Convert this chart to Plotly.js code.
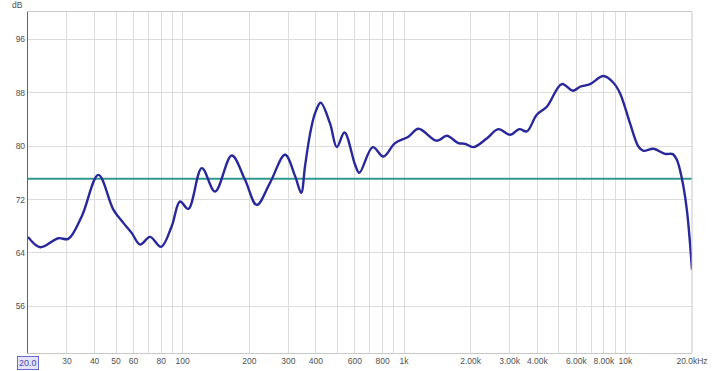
<!DOCTYPE html>
<html>
<head>
<meta charset="utf-8">
<script src="https://cdn.plot.ly/plotly-3.0.1.min.js"></script>
<style>
html,body{margin:0;padding:0;background:#fff;}
#chart{width:720px;height:371px;}
</style>
</head>
<body>
<div id="chart"></div>
<script>
// Frequency response (Hz, dB)
var freq = [20, 22.7, 27.4, 30.4, 35, 41.6, 48.6, 53.9, 58.8, 64.2, 71.2, 79.8, 89.2, 97.2, 106, 122, 140, 166.5, 191, 216, 248, 290, 322, 343, 357, 376, 396, 420, 463, 497, 538, 601, 628, 722, 806, 911, 1046, 1161, 1406, 1560, 1760, 1887, 2057, 2365, 2669, 3013, 3320, 3586, 3978, 4416, 5161, 5786, 6243, 6928, 7956, 8830, 9466, 10500, 11450, 12060, 13380, 15120, 16380, 17080, 17990, 18950, 20000];
var spl = [66.4, 64.85, 66.2, 66.1, 69.5, 75.7, 70.5, 68.5, 67, 65.25, 66.4, 64.9, 68, 71.7, 70.6, 76.7, 73.2, 78.6, 75, 71.2, 74.5, 78.7, 75.5, 73, 77, 81.8, 84.9, 86.5, 83.4, 79.85, 82.05, 77.2, 76, 79.85, 78.45, 80.45, 81.4, 82.6, 80.8, 81.55, 80.45, 80.35, 79.85, 81.15, 82.55, 81.7, 82.55, 82.2, 84.7, 85.9, 89.3, 88.3, 88.9, 89.3, 90.5, 89.5, 87.9, 83.4, 79.95, 79.3, 79.6, 78.85, 78.8, 77.95, 75.2, 70.5, 61.5];
// Reference level line
var refFreq = [20, 20000];
var refLevel = [75.1, 75.1];
// Axis ticks
var xGrid = [20,30,40,50,60,70,80,90,100,200,300,400,500,600,700,800,900,1000,2000,3000,4000,5000,6000,7000,8000,9000,10000,20000];
var xLabels = ['', '30','40','50','60','','80','','100','200','300','400','','600','','800','','1k','2.00k','3.00k','4.00k','','6.00k','','8.00k','','10k','20.0kHz'];
var yTicks = [56, 64, 72, 80, 88, 96];
var yLabels = ['56','64','72','80','88','96'];

var traces = [
  {x: refFreq, y: refLevel, type: 'scatter', mode: 'lines',
   line: {color: '#2f9890', width: 2}, hoverinfo: 'skip'},
  {x: freq, y: spl, type: 'scatter', mode: 'lines',
   line: {color: '#28289a', width: 2.4, shape: 'spline', smoothing: 1}, hoverinfo: 'skip'}
];

var layout = {
  width: 720, height: 371,
  margin: {l: 28, r: 28, t: 12, b: 18, pad: 0},
  paper_bgcolor: '#ffffff', plot_bgcolor: '#ffffff',
  showlegend: false,
  font: {family: 'Liberation Sans, Arial, sans-serif', size: 8, color: '#505050'},
  xaxis: {
    type: 'log', range: [Math.log10(20), Math.log10(20000)],
    tickmode: 'array', tickvals: xGrid, ticktext: xLabels,
    showgrid: true, gridcolor: '#dcdcdc', gridwidth: 1,
    showline: true, linecolor: '#c8c8c8', linewidth: 1, mirror: true,
    ticks: '', zeroline: false, tickfont: {size: 8.5, color: '#505050'}
  },
  yaxis: {
    range: [49.0, 100.1],
    tickmode: 'array', tickvals: yTicks, ticktext: yLabels,
    showgrid: true, gridcolor: '#dcdcdc', gridwidth: 1,
    showline: true, linecolor: '#5a5aa8', linewidth: 1.2,
    ticks: '', zeroline: false, tickfont: {size: 8.5, color: '#505050'}
  },
  shapes: [
    {type: 'line', xref: 'paper', yref: 'paper', x0: 1, x1: 1, y0: 0, y1: 1,
     line: {color: '#c8c8c8', width: 1}}
  ],
  annotations: [
    {text: 'dB', xref: 'paper', yref: 'paper', x: 0, y: 1, xanchor: 'right', yanchor: 'bottom',
     xshift: -3, yshift: 0, showarrow: false, font: {size: 8.5, color: '#505050'}},
    {text: '20.0', xref: 'x', yref: 'paper', x: Math.log10(20), y: 0, xanchor: 'center', yanchor: 'top',
     yshift: -3, showarrow: false, font: {size: 9, color: '#4a4ab0'},
     bgcolor: '#e4e4ff', bordercolor: '#6a6ad0', borderwidth: 1, borderpad: 1}
  ]
};

Plotly.newPlot('chart', traces, layout, {staticPlot: true, displayModeBar: false});
</script>
</body>
</html>
